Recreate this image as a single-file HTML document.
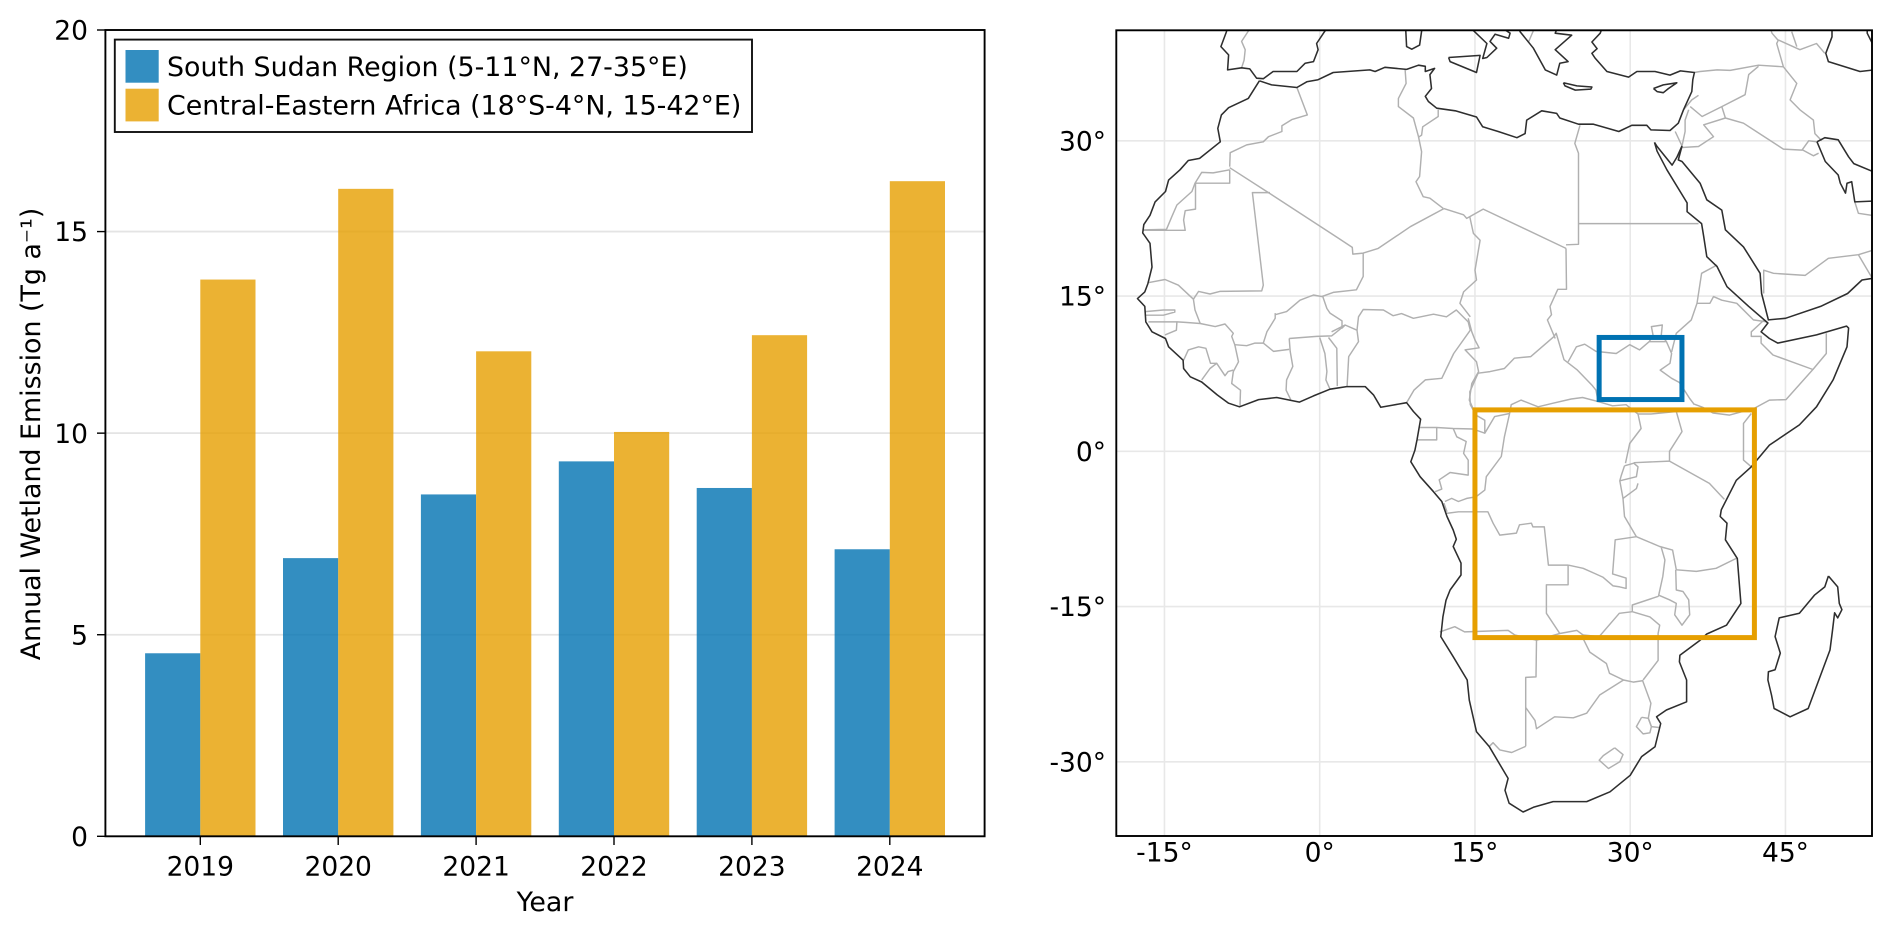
<!DOCTYPE html>
<html lang="en">
<head>
<meta charset="utf-8">
<title>Annual wetland emission and study regions</title>
<style>
  html, body { margin: 0; padding: 0; background: #fff; }
  body { width: 1892px; height: 931px; overflow: hidden; }
  svg { display: block; }
  text { font-family: "DejaVu Sans", "Liberation Sans", sans-serif; font-size: 26.5px; fill: #000; }
  text.wide { font-size: 26.85px; }
</style>
</head>
<body>
<svg id="figure" xmlns="http://www.w3.org/2000/svg" width="1892" height="931" viewBox="0 0 1892 931">
  <defs>
    <clipPath id="map-clip"><rect x="1116.3" y="30.3" width="755.7" height="805.7"></rect></clipPath>
  </defs>
  <rect x="0" y="0" width="1892" height="931" fill="#ffffff"></rect>

  <g id="bar-chart">
    <g id="bar-grid"></g>
    <g id="bars"></g>
    <g id="bar-ticks"></g>
    <rect x="105.4" y="30" width="879.2" height="806.3" fill="none" stroke="#000" stroke-width="1.9"></rect>
    <text class="wide" x="545" y="911" text-anchor="middle">Year</text>
    <text class="wide" transform="translate(40,434) rotate(-90)" text-anchor="middle">Annual Wetland Emission (Tg a⁻¹)</text>
    <g>
      <rect x="114.8" y="39.6" width="637.2" height="92.4" fill="#fff" stroke="#111" stroke-width="1.9"></rect>
      <g>
        <rect x="125.5" y="50" width="33.2" height="32.7" fill="#0072B2" fill-opacity="0.8"></rect>
        <text class="wide" x="167" y="76">South Sudan Region (5-11°N, 27-35°E)</text>
      </g>
      <g>
        <rect x="125.5" y="88.7" width="33.2" height="32.7" fill="#E69F00" fill-opacity="0.8"></rect>
        <text class="wide" x="167" y="114.4">Central-Eastern Africa (18°S-4°N, 15-42°E)</text>
      </g>
    </g>
  </g>

  <g id="map">
    <g clip-path="url(#map-clip)">
      <g id="map-grid"></g>
      <g id="map-borders"></g>
      <g id="map-coast"></g>
      <g id="map-boxes"></g>
    </g>
    <rect x="1116.3" y="30.3" width="755.7" height="805.7" fill="none" stroke="#000" stroke-width="1.9"></rect>
    <g id="map-labels"></g>
  </g>
</svg>

<script>
// ---- Bar chart data ----
const years = ["2019", "2020", "2021", "2022", "2023", "2024"];
const southSudanEmission = [4.54, 6.9, 8.48, 9.3, 8.64, 7.12];
const centralEasternEmission = [13.81, 16.06, 12.03, 10.03, 12.43, 16.25];
const yTickValues = [0, 5, 10, 15, 20];
const yGridValues = [5, 10, 15];

// ---- Map data (lon, lat in degrees) ----
const lonTicks = [-15, 0, 15, 30, 45];
const latTicks = [-30, -15, 0, 15, 30];
const southSudanBox = [27, 35, 5, 11];
const centralEasternBox = [15, 42, -18, 4];

const africaOuterCoast = [[-5.83,35.8],[-6.9,34.1],[-8.8,33.2],[-9.5,32.5],[-9.85,31.2],[-9.6,29.9],[-11.6,28.3],[-12.7,28.1],[-13.5,27.2],[-14.6,26.2],[-14.9,25.1],[-15.9,24.1],[-16.4,22.8],[-17,21.9],[-17.1,21.1],[-16.4,20.1],[-16.2,17.8],[-16.6,16.2],[-16.9,15.4],[-17.6,14.75],[-16.9,14],[-16.8,12.5],[-16.2,11.55],[-14.9,10.9],[-14.6,10.1],[-13.2,8.8],[-13.15,8],[-12.5,7.2],[-11.4,6.7],[-9.9,5.45],[-8.8,4.65],[-7.75,4.3],[-5.9,5],[-4.15,5.2],[-1.95,4.75],[-0.6,5.35],[1,6],[2.6,6.25],[4.4,6.25],[5.2,5.45],[5.9,4.25],[7,4.45],[8.4,4.7],[9.05,3.85],[9.75,3.1],[9.4,1.1],[9.2,0.1],[8.8,-1],[9.7,-2.45],[11,-3.9],[11.8,-4.85],[12.3,-6.3],[12.9,-7.6],[13.2,-8.5],[12.9,-9.2],[13.65,-10.8],[13.65,-11.95],[12.6,-13.4],[12.2,-14.4],[11.9,-16],[11.7,-17.9],[12.9,-19.85],[14.25,-22.1],[14.45,-24.05],[15.15,-27.1],[16.4,-28.55],[18.2,-31.6],[17.9,-32.75],[18.3,-34],[19.65,-34.85],[20.65,-34.4],[22.55,-33.85],[25.8,-33.85],[28.05,-32.9],[30,-31.3],[31.1,-29.5],[32.4,-28.55],[32.95,-26.3],[32.55,-25.65],[33.5,-25],[35.45,-24.2],[35.45,-22.1],[34.75,-20.35],[34.8,-19.7],[36.75,-18.25],[37.4,-17.65],[39.3,-16.8],[40.7,-14.7],[40.35,-10.35],[39.2,-8.55],[39.35,-6.95],[38.7,-6.3],[38.8,-5.65],[40.25,-2.8],[41.7,-1.5],[43.45,0.6],[46.35,2.55],[48,4.3],[49.6,6.9],[50.95,10.1],[51.1,11.9],[50.9,12.1],[48,11.25],[44.25,10.45],[43.45,10.9],[42.65,11.55],[43.3,12.4],[41.45,14],[39.35,15.9],[38.4,17.85],[37.4,18.8],[37.1,20.75],[36.9,22],[35.5,23.15],[35.5,24],[33.55,27.2],[32.6,29],[32.35,29.85]];
const mediterraneanCoast = [[-5.83,35.8],[-4.65,35.4],[-2.2,35.15],[-1.25,35.7],[-0.15,35.9],[1.3,36.6],[4.85,36.85],[5.35,36.7],[6.3,37.1],[8.4,36.9],[9.55,37.3],[10.2,37.2],[10.2,36.7],[11.1,37],[10.65,36.4],[10.8,35.05],[10.2,34.3],[10.5,33.8],[11.3,33.15],[13.1,32.9],[15.15,32.3],[15.75,31.35],[17.25,30.9],[19.05,30.3],[19.85,30.7],[20,32],[21.45,32.9],[22.9,32.65],[23.2,32.2],[25,31.6],[26.45,31.6],[28.9,30.9],[30.15,31.5],[31.6,31.5],[32,31.05],[33.85,31],[34.65,31.7],[35.15,33],[35.95,34.75],[36.05,35.9],[36.2,36.6],[34.85,36.75],[33.85,36.35],[32.4,36.7],[30.65,36.7],[29.85,36.15],[27.75,36.7],[26.6,38],[26.3,38.45],[26.8,38.9],[26.3,39.55],[27.1,40.4],[27.4,41.2]];
const sinaiCoast = [[32.35,29.85],[32.6,29.45],[34.05,27.65],[34.5,28.4],[35,29.5]];
const arabiaRedSeaCoast = [[35,29.5],[34.65,28.15],[35,28],[36.75,25.9],[37.4,24.3],[38.85,23.3],[39.2,21.4],[40.95,19.75],[42.55,17.2],[42.7,15.25],[43.35,12.7],[45,12.85],[48.4,14],[51,15.25],[52.4,16.55],[54,16.8]];
const persianGulfArabia = [[48.05,29.9],[48.85,28],[50.1,26.7],[50.3,25.9],[50.8,24.95],[50.95,25.9],[51.4,26.05],[51.7,24.1],[54,24.2]];
const persianGulfIran = [[48.05,29.9],[48.8,30.3],[50.1,30.1],[51.1,28.45],[51.6,27.8],[54,26.8]];
const caspianCoast = [[49.5,41],[49.5,40.05],[48.9,38.45],[49.15,37.65],[52.2,36.7],[54,36.9]];
const caspianEastCoast = [[52.9,41],[52.9,40.4],[53.4,39.4],[54,39.2]];
const iberiaCoast = [[-9,41],[-9,40.55],[-9.55,39.1],[-8.8,38.3],[-8.9,36.85],[-7.55,37.05],[-6.75,36.95],[-6.1,36.05],[-5.45,36],[-4.5,36.7],[-2.2,36.7],[-1.4,37.5],[-0.6,37.65],[-0.15,38.8],[-0.3,39.4],[0.5,40.6],[0.9,41]];
const italyCoast = [[14.8,40.7],[16.15,39.4],[15.75,37.95],[16.15,38.05],[17.1,38.95],[16.45,39.6],[16.95,40.3],[18.25,39.9],[18.4,40.4],[17.5,41]];
const greeceCoast = [[19.35,41],[19.35,40.55],[20.65,38.95],[21.8,36.85],[22.9,36.35],[23.2,37.5],[24,37.65],[22.75,38.8],[24.35,40.2],[22.75,40.4],[23,41]];
const sicilyCoast = [[12.45,38.05],[15.5,38.25],[15.15,36.6],[12.6,37.65],[12.45,38.05]];
const sardiniaCoast = [[8.3,41],[8.4,39.1],[8.9,38.85],[9.65,39.25],[9.9,41]];
const creteCoast = [[23.55,35.6],[24.85,35.3],[26.3,35.2],[26.2,35],[24.7,34.9],[23.7,35.3],[23.55,35.6]];
const cyprusCoast = [[32.25,35.05],[33.2,35.4],[34.5,35.6],[33.7,35.05],[33.2,34.65],[32.6,34.75],[32.25,35.05]];
const madagascarCoast = [[49.15,-12.05],[50.05,-13.1],[50.2,-14.7],[50.45,-15.3],[50.05,-16.1],[49.75,-15.6],[49.55,-17.3],[49.3,-19.2],[47.2,-24.85],[45.45,-25.65],[43.9,-24.85],[43.65,-23.55],[43.3,-22.1],[43.35,-21.3],[44,-21.1],[44.5,-19.5],[44,-17.9],[44.4,-16.1],[46.35,-15.65],[47.8,-13.9],[48.8,-13.1],[49.15,-12.05]];
const coastlines = [africaOuterCoast, mediterraneanCoast, sinaiCoast, arabiaRedSeaCoast, persianGulfArabia, persianGulfIran, caspianCoast, caspianEastCoast, iberiaCoast, italyCoast, greeceCoast, sicilyCoast, sardiniaCoast, creteCoast, cyprusCoast, madagascarCoast];

const northwestBorders = [
  [[-6.9,41],[-6.9,40.6],[-7.55,39.6],[-7.2,38.8],[-7.3,37.8],[-7.55,37.05]],
  [[-2.2,35.15],[-1.75,33.95],[-1.2,32.5],[-2.7,32.05],[-3.65,31.45],[-3.65,30.9],[-4.95,30.4],[-5.45,29.9],[-7.05,29.6],[-8.65,28.85],[-8.7,27.5]],
  [[-8.7,27.2],[-10.3,26.9],[-11.4,26.95],[-12.05,25.9],[-12.35,25.1],[-13.8,23.8],[-14.3,22.65],[-14.8,21.45],[-17.05,21.4]],
  [[-8.7,27.2],[-8.7,25.9],[-12,25.9],[-12,23.4],[-13,23.25],[-13.15,22.35],[-13,21.35],[-17.05,21.35]],
  [[-8.7,27.4],[-4.8,24.9],[1.8,20.6],[3.15,19.7],[3.2,19.05],[4.2,19.15],[5.65,19.6],[8.75,21.7],[12,23.45]],
  [[-4.8,25],[-6.5,25],[-5.45,16.05],[-5.6,15.5],[-9.65,15.45],[-10.6,15.2],[-11.7,15.45],[-12.2,14.7]],
  [[-16.5,16.3],[-14.95,16.6],[-13.65,16.05],[-12.2,14.7],[-12.05,13.65],[-11.55,12.35]],
  [[8.25,36.9],[8.35,35.55],[7.6,34.1],[7.6,33.3],[9.05,32.2],[9.55,30.4]],
  [[11.45,33],[11.45,32.35],[9.95,31.35],[9.85,30.55],[9.55,30.35]],
  [[9.55,30.4],[9.85,28.95],[9.65,26.55],[9.3,26.05],[10,24.6],[10.65,24.45],[11.95,23.45]],
  [[12,23.45],[13.9,22.85],[14.2,22.5],[15.8,23.4],[23.8,19.6]],
  [[25.15,31.5],[24.65,29.75],[25,28.8],[25,20],[23.8,19.95]],
  [[25,22],[36.6,22]],
  [[23.8,19.6],[23.85,15.65],[23,15.65],[22.25,14],[22.4,13.2],[22,12.7],[22.75,10.9]],
  [[4.2,19.15],[4.2,16.9],[3.55,15.6],[1.3,15.35],[0.2,14.95],[-0.6,15.1],[-1.9,14.6],[-3.2,13.5],[-4.3,13.2]],
  [[14.5,22.65],[14.85,21.05],[15.5,20.4],[15,17.5],[15.15,16.55],[13.9,15.4],[13.55,14.3],[14.55,13]],
  [[0.3,14.95],[0.7,13.8],[1,13.35],[2.15,12.6],[2.15,11.9],[2.45,12.2]]
];
const westAfricaBorders = [
  [[3.6,11.7],[3.75,13],[4.2,13.7],[6.15,13.65],[7.1,13.1],[7.9,13.3],[9.05,12.85],[11,13.25],[12.25,13],[13.2,13.65],[14.35,12.5]],
  [[1.15,11.55],[2.45,12.2],[3.6,11.7],[3.75,10.6],[2.8,9.15],[2.65,6.3]],
  [[-2.95,10.9],[-0.3,11.1],[1.15,11.15],[1.65,11.55],[2.45,12.2]],
  [[0,11],[0.5,9.45],[0.7,7.7],[0.6,6.9],[1,6]],
  [[0.85,11],[1.65,9.95],[1.7,6.3]],
  [[-2.95,10.9],[-2.85,9.65],[-2.6,8.2],[-3.2,6.9],[-3.25,5.9],[-2.8,5]],
  [[-2.95,9.85],[-4.45,9.65],[-5.45,10.45]],
  [[-5.45,10.45],[-5.1,11.55],[-4.3,12.85],[-4.3,13.35]],
  [[-5.45,10.45],[-6.25,10.45],[-7.05,10.2],[-8.2,10.3],[-8.5,11.1],[-8.35,11.4],[-9.15,12.3],[-10.1,12.05],[-11.55,12.35],[-13,12.45],[-13.75,12.5],[-16.55,12.5]],
  [[-16.85,13.5],[-15.1,13.65],[-14,13.65],[-14,13.45],[-15.1,13.15],[-16.85,13.15]],
  [[-13.8,12.5],[-13.85,11.7],[-14.95,11.25]],
  [[-13.15,8.8],[-12.7,9.8],[-11.7,10.1],[-11,9.95],[-10.55,8.5],[-9.95,8.5]],
  [[-11.4,6.9],[-10.6,8],[-9.95,8.5],[-9.15,7.3],[-8.85,7.7],[-8.35,7.85]],
  [[-8.2,10.3],[-7.85,8.65],[-8.35,7.7],[-8.5,6.55],[-7.65,5.9],[-7.7,4.4]],
  [[14.35,12.5],[14.55,11.7],[12.95,9.45],[11.8,7.05],[10.2,6.9],[9.1,5.9],[8.4,4.7]],
  [[14.35,12.85],[14.7,11.55],[15,10.75],[15.4,10],[14.05,9.8],[15.15,8.65],[15.35,7.7],[14.7,6.55],[14.45,4.95],[14.8,4.15]]
];
const centralAfricaBorders = [
  [[9.7,2.3],[11.3,2.3],[12.9,2.2],[14.8,2.15],[15.95,1.75]],
  [[11.3,2.3],[11.3,1.1],[9.4,1.1]],
  [[12.9,2.2],[13.25,1.4],[14.15,0.95],[13.9,-0.2],[14.35,-0.85],[14.35,-2.3],[12.6,-2.05],[11.55,-2.75],[11.8,-3.65],[11.15,-3.9]],
  [[12.1,-4.85],[12.75,-4.55],[13.4,-4.85],[14.2,-4.55],[15.1,-4.4],[15.95,-3.75],[16.1,-2.45],[17.55,-0.5],[17.85,1.4],[18.35,3.65]],
  [[12,-5],[12.3,-5.85]],
  [[12.25,-6],[13.4,-5.85],[16.25,-5.85],[16.75,-6.95],[17.4,-8.1],[19,-7.9],[19.3,-7.1],[20.45,-6.95],[20.6,-7.3],[21.7,-7.3],[22.1,-11],[24,-11]],
  [[24,-11],[24,-12.9],[21.9,-12.9],[21.9,-15.65],[23.2,-17.6]],
  [[24,-11],[25.45,-11.3],[26.55,-11.8],[27.35,-12.15],[28.35,-13],[29,-13.1],[29.6,-13.25],[29.6,-12.25],[28.3,-11.85],[28.55,-8.55],[30.6,-8.25]],
  [[30.6,-8.25],[32.85,-9.2],[34.1,-9.55],[34.45,-11.45]],
  [[34.45,-11.45],[36.4,-11.6],[38.3,-11.3],[40.25,-10.35]],
  [[33,-9.3],[33.35,-10.5],[33.15,-12.1],[32.75,-13.9],[33.8,-14.35],[34.45,-14.7],[34.3,-15.8],[35,-16.8],[35.75,-15.8],[35.65,-14.35],[35.1,-13.55],[34.45,-13.4],[34.4,-11.45]],
  [[32.75,-14],[30.2,-14.85],[30.2,-15.5]],
  [[15.1,3.5],[15.95,3],[15.95,1.75],[16.9,3.35],[18.35,3.65]],
  [[15.3,7.55],[16.45,7.7],[17.85,8],[18.8,9],[20.4,9.15],[22.65,11.1],[22.85,11.4],[23.6,8.85],[24.9,7.85],[26.3,6.4],[26.7,5.9],[26.9,4.8]],
  [[15.3,7.55],[14.5,5.75],[14.55,4.5],[15.1,3.5]],
  [[18.35,3.65],[18.5,4.5],[19.45,4.95],[21.1,4.3],[22.55,4.65],[24.3,5.05],[25.4,5.2],[26.9,4.8],[28.3,4.4],[29.6,4.5],[30.75,3.6]]
];
const eastAfricaBorders = [
  [[24,8.65],[24.8,10.1],[25.6,10.35],[26.7,9.65],[28.65,9.45],[29.95,10.3],[30.9,9.8],[31.85,10.6],[33.5,10.6],[34,9.45],[33.85,8.5],[32.9,7.85],[34,7.05],[34.75,6.65],[35.75,5.1],[36.2,4.5]],
  [[31.85,10.6],[32.2,11.25],[32.05,12.05],[33.1,12.2],[33,11.25],[33.5,10.6]],
  [[34,9.6],[34.45,11.4],[35.9,12.7],[36.45,14.3],[36.9,17.2],[38.4,18]],
  [[36.45,14.3],[37.7,14.3],[38.05,14.95],[38.85,14.6],[40.3,14.3],[41.9,12.7],[43.2,12.5]],
  [[42.95,12.7],[41.7,11.55],[41.7,11.1],[42.65,11.1],[42.65,10.45],[43.8,9.3],[47.65,7.9],[45.05,5],[43.45,4.95],[42,4.15],[39.6,3.5],[38,3.7],[37,4.25],[36.2,4.55]],
  [[48.95,11.4],[48.95,9.45],[47.65,7.9]],
  [[41.7,3.65],[40.95,2.7],[40.95,-0.85],[41.7,-1.5]],
  [[30.75,3.6],[32,3.6],[34.45,3.85],[35,1.9],[33.8,0],[33.8,-0.95],[37.65,-3.1],[39.1,-4.65]],
  [[30.75,3.6],[31.05,2.2],[29.95,0.75],[29.55,-1.15]],
  [[30.35,-1.1],[33.8,-0.95]],
  [[29.45,-1.4],[29.15,-2.3],[29,-2.85],[30.6,-2.45],[30.75,-1.5],[30.35,-1.15],[29.45,-1.4]],
  [[29,-2.85],[29.3,-4.55],[30.6,-3.6],[30.75,-3.1]],
  [[29.3,-4.55],[29.45,-6.3],[30.6,-8.25]]
];
const southernAfricaBorders = [
  [[30.2,-15.5],[28.95,-15.65],[27,-17.9],[25.45,-17.75]],
  [[30.2,-15.5],[31.9,-16],[32.85,-16.8],[32.7,-17.6],[32.7,-19.55],[32.7,-20.2],[31.25,-22.1]],
  [[11.6,-17.45],[13.05,-16.95],[14,-17.45],[18.2,-17.3],[18.85,-17.75],[20.95,-18.25],[23.2,-17.6],[24.85,-17.3],[25.45,-17.75],[25.45,-18.1]],
  [[20.95,-18.25],[20.9,-21.8],[19.9,-21.85],[19.9,-28.5]],
  [[16.4,-28.5],[16.75,-28.15],[17.4,-28.85],[18.55,-29.1],[19.9,-28.5]],
  [[19.9,-24.75],[20.8,-26],[20.95,-26.8],[22.7,-25.65],[24.5,-25.75],[25.8,-25.3],[27.05,-23.55],[29.35,-22.1]],
  [[25.45,-18.1],[26.1,-19.4],[27.7,-20.5],[28,-21.45],[29.35,-22.1],[30.3,-22.3],[31.25,-22.15]],
  [[31.2,-22.15],[32,-24.35],[31.75,-25.8],[32.05,-26.6],[32.9,-26.7]],
  [[31.1,-25.7],[30.6,-26.6],[31.25,-27.3],[31.9,-27.2],[32.05,-26.6],[31.75,-25.8],[31.1,-25.7]],
  [[28.5,-28.65],[29.3,-29.3],[29,-30],[27.9,-30.65],[27,-29.85],[27.4,-29.4],[28.5,-28.65]]
];
const middleEastBorders = [
  [[34.35,30.9],[35,29.5]],
  [[35,29.5],[35.3,30.9],[35.3,32],[35.65,33]],
  [[35.15,33],[35.95,33.95],[36.6,34.4]],
  [[35.8,33.3],[36.95,32.35],[38.85,33.3],[41.1,34.45],[41.45,36.4],[42.4,37.2]],
  [[35,29.35],[36.6,29.45],[38.05,30.4],[37.1,31.55],[39.2,32.2],[38.85,33.3]],
  [[39.2,32.2],[40.95,31.7],[44.8,29.2],[46.6,29.1],[47.25,30],[48.05,29.9]],
  [[46.6,29.15],[47.7,28.55],[48.2,28.8]],
  [[36.2,36.6],[36.75,36.7],[38.4,36.85],[39.65,36.8],[42.4,37.3],[44.8,37.15]],
  [[44.8,37.15],[46.1,35.55],[45.45,33.95],[46.4,33],[47.7,32],[47.85,30.7],[48.5,30]],
  [[44.8,37.15],[44.15,39.4],[44.3,39.7],[43.7,40.4],[43.5,41]],
  [[44.3,39.75],[46.4,38.8],[48,39.4],[48.8,38.45]],
  [[45.6,40.55],[46.1,39.1]],
  [[20.65,40.65],[20.15,39.5]],
  [[42.9,15.25],[42.9,17.5],[43.85,17.2],[46.9,17],[49.15,18.65],[52.05,19],[54,19.6]],
  [[52.05,19],[53.4,16.7]],
  [[51.7,24.1],[52.05,23],[54,22.7]]
];
const borders = northwestBorders.concat(westAfricaBorders, centralAfricaBorders, eastAfricaBorders, southernAfricaBorders, middleEastBorders);

// ---- Axis functions ----
const SVG_NS = "http://www.w3.org/2000/svg";
const barX = i => 200.3 + i * 137.9;
const barWidth = 55.2;
const valueY = v => 836.3 - v * 40.315;
const lonX = lon => 1319.7 + lon * 10.35;
const latY = lat => 451.3 - lat * 10.35;

function svgEl(tag, parentId, props, text) {
  const el = document.createElementNS(SVG_NS, tag);
  for (const k in props) el.setAttribute(k, props[k]);
  if (text !== undefined) el.textContent = text;
  document.getElementById(parentId).appendChild(el);
  return el;
}
function pathFrom(points) {
  return points.map((p, i) => (i ? "L" : "M") + lonX(p[0]).toFixed(1) + " " + latY(p[1]).toFixed(1)).join("");
}

// ---- Draw bar chart ----
yGridValues.forEach(v => {
  const line = svgEl("line", "bar-grid", { x1: 105.4, x2: 984.6, y1: valueY(v), y2: valueY(v), stroke: "#e4e4e4", "stroke-width": 1.8 });
  
  
});
years.forEach((year, i) => {
  const blue = svgEl("rect", "bars", { x: barX(i) - barWidth, y: valueY(southSudanEmission[i]), width: barWidth, height: valueY(0) - valueY(southSudanEmission[i]), fill: "#0072B2", "fill-opacity": 0.8 });
  
  
  const orange = svgEl("rect", "bars", { x: barX(i), y: valueY(centralEasternEmission[i]), width: barWidth, height: valueY(0) - valueY(centralEasternEmission[i]), fill: "#E69F00", "fill-opacity": 0.8 });
  
  
  const tick = svgEl("line", "bar-ticks", { x1: barX(i), x2: barX(i), y1: 836.3, y2: 845, stroke: "#000", "stroke-width": 1.4 });
  
  
  const label = svgEl("text", "bar-ticks", { x: barX(i), y: 875.5, "text-anchor": "middle" }, year);
  
  
});
yTickValues.forEach(v => {
  const tick = svgEl("line", "bar-ticks", { x1: 97, x2: 105.4, y1: valueY(v), y2: valueY(v), stroke: "#000", "stroke-width": 1.4 });
  
  
  const label = svgEl("text", "bar-ticks", { x: 88, y: valueY(v) + 9.6, "text-anchor": "end" }, String(v));
  
  
});

// ---- Draw map ----
lonTicks.forEach(lon => {
  const line = svgEl("line", "map-grid", { x1: lonX(lon), x2: lonX(lon), y1: 30, y2: 836, stroke: "#e8e8e8", "stroke-width": 1.6 });
  
  
  const label = svgEl("text", "map-labels", { x: lonX(lon), y: 861.5, "text-anchor": "middle" }, lon + "°");
  
  
});
latTicks.forEach(lat => {
  const line = svgEl("line", "map-grid", { x1: 1116, x2: 1872, y1: latY(lat), y2: latY(lat), stroke: "#e8e8e8", "stroke-width": 1.6 });
  
  
  const label = svgEl("text", "map-labels", { x: 1106, y: latY(lat) + 9.6, "text-anchor": "end" }, lat + "°");
  
  
});
borders.forEach(points => {
  const p = svgEl("path", "map-borders", { d: pathFrom(points), fill: "none", stroke: "#b0b0b0", "stroke-width": 1.45, "stroke-linejoin": "round" });
  
  
});
coastlines.forEach(points => {
  const p = svgEl("path", "map-coast", { d: pathFrom(points), fill: "none", stroke: "#2e2e2e", "stroke-width": 1.55, "stroke-linejoin": "round" });
  
  
});
function drawBox(box, color) {
  return svgEl("rect", "map-boxes", { x: lonX(box[0]), y: latY(box[3]), width: lonX(box[1]) - lonX(box[0]), height: latY(box[2]) - latY(box[3]), fill: "none", stroke: color, "stroke-width": 5 });
}
const southSudanRect = drawBox(southSudanBox, "#0072B2");


const centralEasternRect = drawBox(centralEasternBox, "#E69F00");


</script>
</body>
</html>
